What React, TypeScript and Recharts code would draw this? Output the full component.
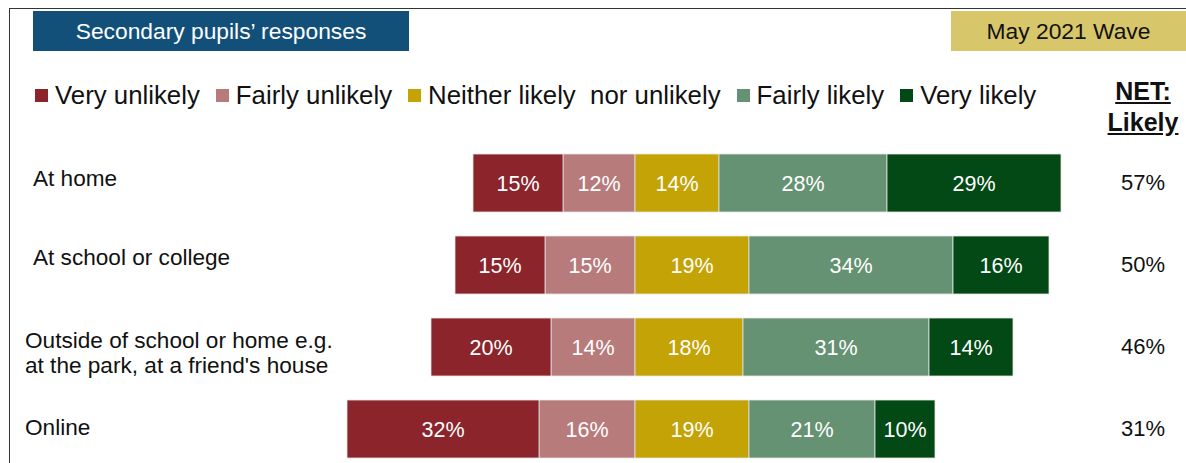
import React from "react";
import { BarChart, Bar, XAxis, YAxis, LabelList } from "recharts";

// categories (rows, top to bottom)
const places = [
  "At home",
  "At school or college",
  "Outside of school or home e.g.\nat the park, at a friend's house",
  "Online",
];

// percentages per answer
const veryUnlikely = [15, 15, 20, 32];
const fairlyUnlikely = [12, 15, 14, 16];
const neither = [14, 19, 18, 19];
const fairlyLikely = [28, 34, 31, 21];
const veryLikely = [29, 16, 14, 10];
const netLikely = [57, 50, 46, 31];

const COLORS = {
  veryUnlikely: "#8b252b",
  fairlyUnlikely: "#b87b7c",
  neither: "#c4a306",
  fairlyLikely: "#659272",
  veryLikely: "#034915",
};

const legendItems = [
  { label: "Very unlikely", color: COLORS.veryUnlikely },
  { label: "Fairly unlikely", color: COLORS.fairlyUnlikely },
  { label: "Neither likely  nor unlikely", color: COLORS.neither },
  { label: "Fairly likely", color: COLORS.fairlyLikely },
  { label: "Very likely", color: COLORS.veryLikely },
];

// unlikely answers go negative so they sit left of the neutral segment
const data = places.map((name, i) => ({
  name,
  fairlyUnlikely: -fairlyUnlikely[i],
  veryUnlikely: -veryUnlikely[i],
  neither: neither[i],
  fairlyLikely: fairlyLikely[i],
  veryLikely: veryLikely[i],
  net: netLikely[i],
}));

const FONT = "'Liberation Sans', Arial, sans-serif";

// small nudges so the row labels sit like the original slide
const labelX = [33, 33, 25, 25];
const labelDy = [-5, -8, 5, -2];

const PlaceTick = (props: any) => {
  const { y, payload, index } = props;
  const lines = String(payload.value).split("\n");
  const lh = 25;
  const startY = y + labelDy[index] - ((lines.length - 1) * lh) / 2;
  return (
    <text
      x={labelX[index]}
      y={startY}
      fontSize={22.6}
      fontFamily={FONT}
      fill="#111"
      dominantBaseline="central"
    >
      {lines.map((l, i) => (
        <tspan key={i} x={labelX[index]} y={startY + i * lh}>
          {l}
        </tspan>
      ))}
    </text>
  );
};

const NetTick = (props: any) => {
  const { y, index } = props;
  return (
    <text
      x={1143}
      y={y - 1}
      fontSize={22}
      fontFamily={FONT}
      fill="#111"
      textAnchor="middle"
      dominantBaseline="central"
    >
      {netLikely[index]}%
    </text>
  );
};

const pct = (v: any) => `${Math.abs(Number(v))}%`;

const segLabel = (key: string) => (
  <LabelList
    dataKey={key}
    position="center"
    formatter={pct}
    fill="#fff"
    fontSize={21.5}
    fontFamily={FONT}
  />
);

const seriesOrder = [
  "fairlyUnlikely",
  "veryUnlikely",
  "neither",
  "fairlyLikely",
  "veryLikely",
] as const;

const App = () => {
  return (
    <div
      style={{
        position: "absolute",
        left: 0,
        top: 0,
        width: 1186,
        height: 463,
        overflow: "hidden",
        background: "#fff",
        fontFamily: FONT,
      }}
    >
      {/* slide frame */}
      <div
        style={{
          position: "absolute",
          left: 9,
          top: 8,
          width: 1200,
          height: 500,
          borderTop: "1.5px solid #333",
          borderLeft: "1.5px solid #333",
        }}
      />
      <div
        style={{
          position: "absolute",
          left: 33,
          top: 11,
          width: 376,
          height: 40,
          background: "#12507a",
          color: "#fff",
          fontSize: 22.8,
          display: "flex",
          alignItems: "center",
          justifyContent: "center",
        }}
      >
        Secondary pupils’ responses
      </div>
      <div
        style={{
          position: "absolute",
          left: 951,
          top: 11,
          width: 235,
          height: 40,
          background: "#d8c66a",
          color: "#111",
          fontSize: 22.8,
          display: "flex",
          alignItems: "center",
          justifyContent: "center",
        }}
      >
        May 2021 Wave
      </div>

      {/* legend */}
      <div
        style={{
          position: "absolute",
          left: 35,
          top: 81,
          display: "flex",
          alignItems: "center",
          gap: 16,
          fontSize: 25.8,
          color: "#111",
          whiteSpace: "pre",
        }}
      >
        {legendItems.map((it) => (
          <div key={it.label} style={{ display: "flex", alignItems: "center" }}>
            <span
              style={{
                width: 13,
                height: 13,
                background: it.color,
                marginRight: 7,
                display: "inline-block",
              }}
            />
            <span>{it.label}</span>
          </div>
        ))}
      </div>
      <div
        style={{
          position: "absolute",
          left: 1093,
          top: 76,
          width: 100,
          textAlign: "center",
          fontSize: 25,
          fontWeight: "bold",
          textDecoration: "underline",
          lineHeight: "31px",
          color: "#111",
        }}
      >
        NET:
        <br />
        Likely
      </div>

      <div style={{ position: "absolute", left: 0, top: 0 }}>
        <BarChart
          width={1186}
          height={480}
          data={data}
          layout="vertical"
          stackOffset="sign"
          margin={{ top: 142, right: 0, bottom: 10, left: 0 }}
        >
          <XAxis type="number" domain={[-50, 80]} hide />
          <YAxis
            yAxisId="left"
            type="category"
            dataKey="name"
            width={335}
            axisLine={false}
            tickLine={false}
            tick={<PlaceTick />}
          />
          <YAxis
            yAxisId="right"
            orientation="right"
            type="category"
            dataKey="name"
            width={71}
            axisLine={false}
            tickLine={false}
            tick={<NetTick />}
          />
          {seriesOrder.map((key) => (
            <Bar
              key={key}
              yAxisId="left"
              dataKey={key}
              stackId="a"
              fill={COLORS[key]}
              barSize={58}
              stroke="#e4e4e4"
              strokeWidth={0.8}
              isAnimationActive={false}
            >
              {segLabel(key)}
            </Bar>
          ))}
        </BarChart>
      </div>
    </div>
  );
};

export default App;
